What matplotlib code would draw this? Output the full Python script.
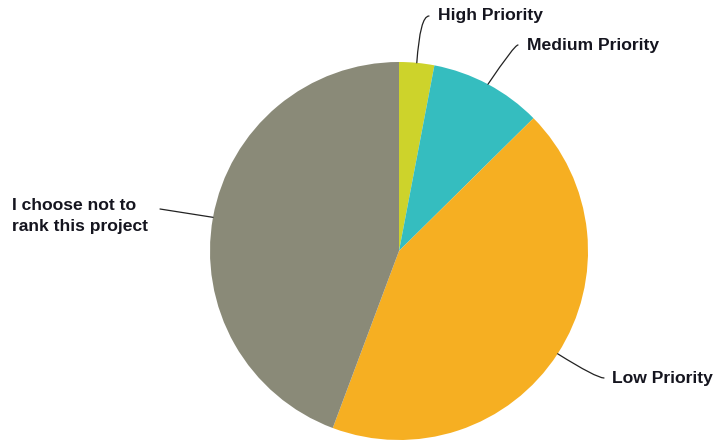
import numpy as np
import matplotlib.pyplot as plt

labels = ["High Priority", "Medium Priority", "Low Priority",
          "I choose not to\nrank this project"]
shares = [3.0, 9.6, 43.1, 44.3]
colors = ["#CDD32B", "#35BDBF", "#F6AF22", "#8A8A78"]

# label placement (pixel coords, y measured from top)
label_xy = [(438, 15), (527, 45), (612, 378), (12, 216)]
line_end = [(429, 16), (518, 45), (604, 378), (160, 209)]
# leader line angles: at the label end, at the pie end
conn = ["angle3,angleA=0,angleB=86",
        "angle3,angleA=0,angleB=56",
        "angle3,angleA=0,angleB=-32",
        "arc3,rad=0"]

W, H = 718, 443
cx, cy, r = 399, 251, 189

fig = plt.figure(figsize=(W / 100, H / 100), dpi=100)
ax = fig.add_axes([0, 0, 1, 1])

ax.pie(shares, colors=colors, startangle=90, counterclock=False,
       center=(cx, H - cy), radius=r, frame=True,
       wedgeprops=dict(linewidth=0))
ax.set_xlim(0, W)
ax.set_ylim(0, H)
ax.set_aspect("equal")
ax.axis("off")

total = sum(shares)
start = 0.0
for i, s in enumerate(shares):
    mid = (start + s / 2) / total * 2 * np.pi
    start += s
    px = cx + r * np.sin(mid)
    py = H - (cy - r * np.cos(mid))
    ex, ey = line_end[i]
    ax.annotate("", xy=(px, py), xytext=(ex, H - ey),
                arrowprops=dict(arrowstyle="-", color="#222222", lw=0.9,
                                shrinkA=0, shrinkB=0,
                                connectionstyle=conn[i]))
    tx, ty = label_xy[i]
    ax.text(tx, H - ty, labels[i], ha="left", va="center", fontsize=12.6,
            fontweight="bold", color="#15151f", linespacing=1.45,
            family=["Liberation Sans", "DejaVu Sans"])

fig.savefig("out.png", dpi=100)
